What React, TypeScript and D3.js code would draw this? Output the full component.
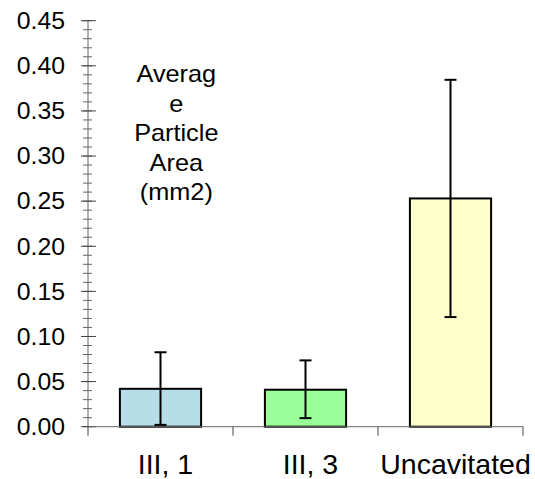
import { range, scaleBand, scaleLinear } from "d3";

const WIDTH = 535;
const HEIGHT = 479;

const categories = ["III, 1", "III, 3", "Uncavitated"];
const means = [0.042, 0.041, 0.253];
const errLow = [0.002, 0.0095, 0.1215];
const errHigh = [0.0825, 0.0735, 0.3845];
const colors = ["#b7dde8", "#99ff99", "#ffffcc"];
const yTicks = [0, 0.05, 0.1, 0.15, 0.2, 0.25, 0.3, 0.35, 0.4, 0.45];
const labelLines = ["Averag", "e", "Particle", "Area", "(mm2)"];

const FONT = "Arial, 'Liberation Sans', sans-serif";

// text with a slight horizontal stretch, like the reference
function WideText({ x, y, sx, size, anchor, children }: any) {
  return (
    <text
      transform={`translate(${x},${y}) scale(${sx},1)`}
      textAnchor={anchor}
      fontFamily={FONT}
      fontSize={size}
      fill="#000"
    >
      {children}
    </text>
  );
}

export default function App() {
  const yScale = scaleLinear().domain([0, 0.45]).range([426.7, 20.7]);
  const xScale = scaleBand<string>()
    .domain(categories)
    .range([88, 523])
    .paddingInner(0.44)
    .paddingOuter(0.22);
  const step = xScale.step();
  const minorTicks = range(0, 46).map((i) => i / 100);
  const y0 = yScale(0);

  return (
    <div style={{ position: "absolute", left: 0, top: 0 }}>
      <svg width={WIDTH} height={HEIGHT} style={{ display: "block", background: "#fff" }}>
        {/* bars */}
        {categories.map((c, i) => (
          <rect
            key={c}
            x={xScale(c)}
            y={yScale(means[i])}
            width={xScale.bandwidth()}
            height={y0 - yScale(means[i])}
            fill={colors[i]}
            stroke="#000"
            strokeWidth={2}
          />
        ))}

        {/* error bars */}
        {categories.map((c, i) => {
          const cx = (xScale(c) ?? 0) + xScale.bandwidth() / 2;
          return (
            <g key={c} stroke="#000" strokeWidth={2}>
              <line x1={cx} x2={cx} y1={yScale(errLow[i])} y2={yScale(errHigh[i])} />
              <line x1={cx - 6} x2={cx + 6} y1={yScale(errLow[i])} y2={yScale(errLow[i])} />
              <line x1={cx - 6} x2={cx + 6} y1={yScale(errHigh[i])} y2={yScale(errHigh[i])} />
            </g>
          );
        })}

        {/* y axis */}
        <line x1={88} x2={88} y1={yScale(0.45)} y2={y0} stroke="#666" />
        {minorTicks.map((t) => (
          <line key={t} x1={83} x2={92} y1={yScale(t)} y2={yScale(t)} stroke="#666" />
        ))}
        {yTicks.map((t) => (
          <g key={t}>
            <line x1={81} x2={96} y1={yScale(t)} y2={yScale(t)} stroke="#444" />
            <WideText x={65} y={yScale(t) + 8.3} sx={1.065} size={23.3} anchor="end">
              {t.toFixed(2)}
            </WideText>
          </g>
        ))}

        {/* x axis */}
        <line x1={88} x2={523} y1={y0} y2={y0} stroke="#666" />
        {range(0, categories.length + 1).map((i) => (
          <line
            key={i}
            x1={88 + i * step}
            x2={88 + i * step}
            y1={y0}
            y2={y0 + 9}
            stroke="#444"
          />
        ))}
        {categories.map((c) => (
          <WideText
            key={c}
            x={(xScale(c) ?? 0) + xScale.bandwidth() / 2 + 5}
            y={473.5}
            sx={1}
            size={28.5}
            anchor="middle"
          >
            {c}
          </WideText>
        ))}

        {/* axis label */}
        {labelLines.map((l, i) => (
          <WideText key={l} x={176.3} y={82 + i * 29.6} sx={1.1} size={23} anchor="middle">
            {l}
          </WideText>
        ))}
      </svg>
    </div>
  );
}
